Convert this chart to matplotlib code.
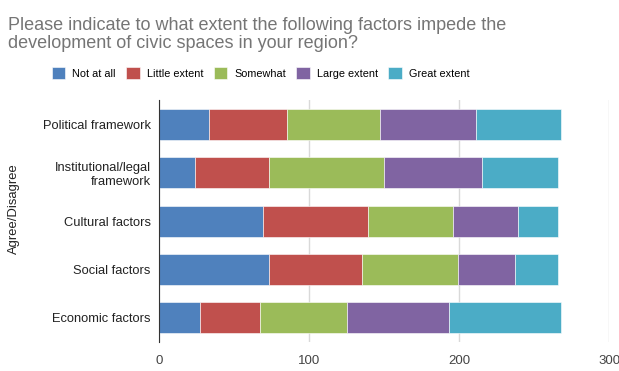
import matplotlib.pyplot as plt
import numpy as np

plt.rcParams['font.family'] = ['Liberation Sans', 'DejaVu Sans']

# Survey answers per factor (respondent counts)
factors = ["Political framework", "Institutional/legal\nframework",
           "Cultural factors", "Social factors", "Economic factors"]
levels = ["Not at all", "Little extent", "Somewhat", "Large extent", "Great extent"]
not_at_all = [33, 24, 69, 73, 27]
little_extent = [52, 49, 70, 62, 40]
somewhat = [62, 77, 57, 64, 58]
large_extent = [64, 65, 43, 38, 68]
great_extent = [57, 51, 27, 29, 75]
colors = ["#4f81bd", "#c0504d", "#9bbb59", "#8064a2", "#4bacc6"]

series = [not_at_all, little_extent, somewhat, large_extent, great_extent]

fig = plt.figure(figsize=(6.19, 3.71), dpi=100)
ax = fig.add_axes([0.257, 0.078, 0.727, 0.652])

y = np.arange(len(factors))
left = np.zeros(len(factors))
for vals, name, c in zip(series, levels, colors):
    ax.barh(y, vals, left=left, height=0.64, color=c, label=name,
            edgecolor="white", linewidth=0.4, zorder=3)
    left += np.array(vals)

ax.set_ylim(len(factors) - 0.5, -0.5)
ax.set_xlim(0, 300)
ax.set_xticks([0, 100, 200, 300])
ax.set_yticks(y)
ax.set_yticklabels(factors, fontsize=9.3, color="#222222")
ax.tick_params(axis="x", labelsize=9.5, colors="#444444", length=0, pad=9)
ax.tick_params(axis="y", length=0, pad=6)
for lbl in ax.get_yticklabels():
    lbl.set_horizontalalignment("right")
    lbl.set_multialignment("right")
ax.grid(axis="x", color="#d9d9d9", linewidth=1, zorder=0)
for side in ["top", "right", "bottom"]:
    ax.spines[side].set_visible(False)
ax.spines["left"].set_color("#333333")
ax.spines["left"].set_zorder(4)
ax.set_ylabel("Agree/Disagree", fontsize=9.4, color="#222222")
ax.yaxis.set_label_coords(-0.31, 0.55)

fig.text(0.013, 0.955, "Please indicate to what extent the following factors impede the\n"
         "development of civic spaces in your region?",
         fontsize=13, color="#757575", va="top", ha="left", linespacing=1.12)

fig.legend(loc="center", bbox_to_anchor=(0.421, 0.803), ncol=5, frameon=False,
           fontsize=7.8, handlelength=1.25, handleheight=1.25, handletextpad=0.65,
           columnspacing=0.95, borderaxespad=0)

fig.savefig("out.png", dpi=100)
